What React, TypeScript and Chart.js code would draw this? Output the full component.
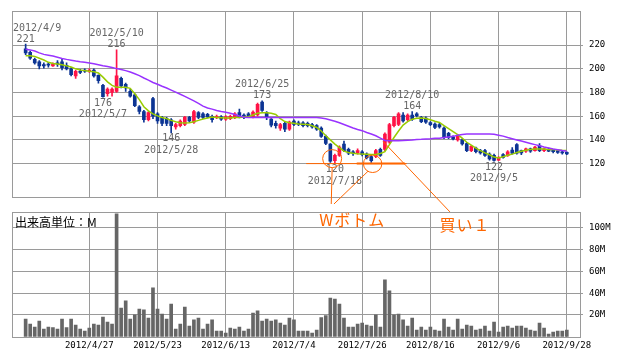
import React, { useEffect, useRef } from "react";
import { Chart, registerables } from "chart.js";

Chart.register(...registerables);

// ---------- data ----------
const days = (
  "4/9 4/10 4/11 4/12 4/13 4/16 4/17 4/18 4/19 4/20 4/23 4/24 4/25 4/26 4/27 " +
  "5/1 5/2 5/7 5/8 5/9 5/10 5/11 5/14 5/15 5/16 5/17 5/18 5/21 5/22 5/23 5/24 5/25 5/28 5/29 5/30 5/31 " +
  "6/1 6/4 6/5 6/6 6/7 6/8 6/11 6/12 6/13 6/14 6/15 6/18 6/19 6/20 6/21 6/22 6/25 6/26 6/27 6/28 6/29 " +
  "7/2 7/3 7/4 7/5 7/6 7/9 7/10 7/11 7/12 7/13 7/17 7/18 7/19 7/20 7/23 7/24 7/25 7/26 7/27 7/30 7/31 " +
  "8/1 8/2 8/3 8/6 8/7 8/8 8/9 8/10 8/13 8/14 8/15 8/16 8/17 8/20 8/21 8/22 8/23 8/24 8/27 8/28 8/29 8/30 8/31 " +
  "9/3 9/4 9/5 9/6 9/7 9/10 9/11 9/12 9/13 9/14 9/18 9/19 9/20 9/21 9/24 9/25 9/26 9/27 9/28"
).split(" ");

const opens = [
  217, 214, 208, 206, 203.5, 204, 202.5, 205, 206, 203,
  200, 194, 198, 199, 198, 199, 194.5, 186, 179, 180,
  181, 192, 187, 181, 178, 168, 164, 157, 175, 162,
  159, 158, 157, 151, 152, 153, 159, 155, 163, 162,
  161.5, 160, 159, 159.5, 157.5, 158, 159, 163, 161, 162,
  159.5, 161, 172, 163, 157.5, 154, 150, 154, 149, 156,
  154.5, 154.5, 154, 153, 152, 150, 143, 136.5, 122.5, 127,
  136.5, 132, 130, 129, 130, 128, 126, 126, 132, 132,
  138, 152, 153, 161, 157, 161, 162, 159, 158.5, 154.7,
  153.4, 153, 150, 145.5, 142.7, 140, 140, 137, 131, 133,
  131, 131, 128, 127, 123, 127.6, 126.7, 131.5, 136, 131,
  130.4, 132.5, 131, 135, 131, 132, 131.5, 131, 130, 129.5,
];
const closes = [
  213.5, 209, 205, 202.5, 202.5, 203, 204, 204, 201, 200,
  195, 198, 197, 198, 199, 194, 190, 176.5, 183, 183,
  194, 185.5, 184, 177, 169, 164, 157, 163, 160, 156,
  154, 154, 152, 153, 156, 159, 156, 164, 159, 159,
  159.5, 157, 160, 157.5, 159.5, 160, 162, 159.5, 159, 160,
  163.5, 170, 165, 159, 152.5, 152, 153, 149, 155, 153,
  153, 152, 152, 151, 149, 143, 137, 122, 127, 134,
  131, 128.7, 128.7, 131, 127.6, 125, 122.5, 131, 127, 145,
  153, 159, 162, 156, 161, 157.5, 160.5, 155.5, 155, 152.8,
  150.5, 151, 142, 142, 140.8, 143.5, 136.6, 131, 134.5, 130,
  129, 127, 124, 122.7, 125, 125.3, 130, 128.7, 128.7, 129,
  132.4, 130.5, 134, 131, 132.5, 130.5, 130, 129.5, 129, 128.2,
];
const highs = [
  221, 215, 209, 207, 205, 205.5, 205, 207, 208, 205,
  201, 199, 199.5, 200, 200, 200, 195, 187, 184, 184,
  216, 193, 188, 183, 179, 169, 165, 164, 176, 163,
  160, 159, 158, 154, 157, 160, 160, 165, 164, 163,
  162.5, 161, 161, 160.5, 160.5, 161, 163, 166, 162, 163,
  164.5, 171, 173, 164, 158, 156, 154, 155, 156, 157,
  156, 155.5, 155, 154, 153, 151, 144, 137, 128, 135,
  139, 133, 131, 132.5, 131, 129, 127, 132, 133, 146,
  154, 160, 163, 163, 162, 164, 163, 160, 159.5, 155.5,
  154.5, 154, 151, 146.5, 143.5, 144.5, 141, 138, 135.5, 134,
  132, 132, 129, 128, 126, 128.5, 131, 133.5, 137, 131.5,
  133, 133, 134.5, 137, 133, 133, 132, 131.5, 131, 130,
];
const lows = [
  212, 208, 204, 200, 200.5, 201.5, 202, 202, 199, 199,
  194, 192, 196, 197, 197, 193, 188, 176, 177, 177,
  180, 184, 181, 176, 168, 162, 155, 156, 158, 154,
  152, 152, 146, 149, 151, 152, 155, 154, 158, 158,
  158.5, 155, 158, 156.5, 156.5, 157, 158, 158.5, 158, 159,
  158.5, 160, 164, 157, 151, 150, 148, 147, 148, 152,
  152, 151, 151, 150, 148, 142, 136, 121, 120, 126,
  130, 127.5, 127, 128, 126.5, 124, 121, 125, 126, 131,
  137, 151, 152, 155, 156, 156.5, 159.5, 154.5, 154, 152,
  149.5, 150, 141, 141, 140, 139, 135.5, 130, 130, 129,
  128, 126, 123, 122, 122.5, 124.5, 126, 128, 128, 127.5,
  129.5, 129.5, 130.5, 130, 130, 130, 129, 128.5, 128, 127.5,
];
const maShort = [
  211, 211, 210.5, 209, 207.5, 205.5, 204.5, 204, 203.5, 202.5,
  201.5, 200, 199, 198.5, 198, 197.5, 196.5, 193, 189, 186,
  184.5, 184.5, 184.5, 183.5, 179, 174, 168, 164.5, 162, 160.3,
  159, 158, 156.5, 155.3, 154.5, 154.2, 154.5, 155.3, 156.5, 157.6,
  158.5, 159.3, 159, 158.7, 158.4, 158.5, 158.9, 159, 159.3, 159.5,
  161, 162.5, 163, 163, 162.5, 161.5, 158, 155.5, 154.5, 154,
  153.5, 153.3, 153, 152, 150.5, 147.5, 143.5, 140, 136.5, 133.5,
  130.5, 129.3, 128.7, 128.3, 128, 127.8, 127.6, 127.6, 128.5, 130,
  136, 142, 147.5, 152.5, 155.5, 157.5, 158.3, 158.5, 158, 157,
  155.8, 154.7, 152, 149.5, 147, 144.5, 141.5, 138, 135.5, 133,
  131, 129, 127.5, 125.5, 124.8, 125.8, 127, 128, 129.3, 130.5,
  131.2, 132, 132.4, 132.4, 132.4, 132, 131.8, 131.5, 131.2, 131,
];
const maLong = [
  216.5, 216, 215, 213.5, 212.2, 211.5, 210.8, 209.8, 208.8, 208,
  207.3, 206.6, 206, 205.5, 205, 204.3, 203.5, 202.7, 202, 201.2,
  200.2, 199.5, 198.5, 197.3, 195.8, 194.3, 192.3, 190.5, 188.5, 187,
  185.3, 183.8, 182, 180.3, 178.6, 176.8, 174.8, 172.9, 170.8, 168.5,
  167, 166, 164.8, 164, 163.3, 162.5, 161.5, 160.2, 159.2, 159,
  159, 159, 159, 159, 159, 159, 159, 159, 159, 159,
  159, 159, 159, 159, 159, 158.5, 157.8, 156.8, 155.8, 154.5,
  153, 151.5, 150, 148.8, 147.8, 146.3, 145, 143.5, 141.5, 139.5,
  139.3, 139.3, 139.3, 139.5, 139.8, 140, 140.3, 140.5, 140.8, 141,
  141.3, 141.5, 142, 142.5, 143, 144, 144.5, 145, 145, 145,
  145, 145, 145, 144.7, 144, 143.2, 142, 141, 140, 139,
  138, 137, 136, 135, 134, 133.2, 132.4, 131.7, 131, 130.4,
];
const volumes = [
  16.3, 11.7, 8.9, 14.4, 7.1, 8.9, 8.3, 7.1, 16.3, 8.3,
  16.3, 10.8, 7.1, 5.2, 8.0, 11.7, 10.8, 18.1, 13.5, 11.7,
  113, 26.4, 32.9, 16.3, 20, 25.5, 24.6, 17.2, 44.9, 25.5,
  20.9, 16.3, 30.1, 7.1, 11.7, 27.3, 9.8, 15.4, 17.2, 7.1,
  11.7, 15.4, 5.2, 5.2, 3.4, 8.0, 7.1, 8.9, 5.2, 7.1,
  21.8, 23.7, 14.4, 16.3, 14.4, 15.4, 12.6, 10.8, 17.2, 15.4,
  5.2, 5.2, 5.2, 3.4, 6.1, 17.5, 19.4, 35.6, 34.7, 30.1,
  17.2, 8.9, 8.9, 11.7, 12.6, 10.8, 9.8, 20, 8.9, 52.2,
  42.1, 20, 20.9, 15.4, 9.8, 17.2, 6.1, 8.9, 6.1, 8.9,
  6.1, 5.2, 16.3, 8.9, 6.1, 16.3, 7.1, 10.8, 9.8, 6.1,
  7.1, 9.8, 5.2, 13.5, 4.3, 8.9, 9.8, 8.0, 9.8, 9.8,
  8.0, 6.1, 5.2, 12.6, 8.0, 2.5, 4.3, 5.2, 5.2, 6.1,
];
const priceTicks = [120, 140, 160, 180, 200, 220];
const volumeTicks = [20, 40, 60, 80, 100];
const xTickDays = ["4/27", "5/23", "6/13", "7/4", "7/26", "8/16", "9/6", "9/28"];
const peakMarks = [
  { day: "4/9", kind: "high" },
  { day: "5/10", kind: "high" },
  { day: "5/7", kind: "low" },
  { day: "5/28", kind: "low" },
  { day: "6/25", kind: "high" },
  { day: "7/18", kind: "low" },
  { day: "8/10", kind: "high" },
  { day: "9/5", kind: "low" },
];
// hand-drawn annotations, in (day index, price) units
const noteCircles = [
  { x: 67.4, y: 124.2, rx: 9.5, ry: 9 },
  { x: 76.3, y: 119.8, rx: 9.2, ry: 8.7 },
];
const noteLines = [
  { x1: 61.7, y1: 120, x2: 83.8, y2: 120, w: 1 },
  { x1: 72.8, y1: 120, x2: 83.4, y2: 120, w: 2 },
  { x1: 67.4, y1: 116.6, x2: 67.2, y2: 85.9, w: 1 },
  { x1: 75.3, y1: 113.6, x2: 67.8, y2: 85.9, w: 1 },
  { x1: 78.6, y1: 138.7, x2: 93.3, y2: 79.2, w: 1 },
];
const noteTexts = [
  { text: "Wボトム", x: 71.8, y: 72.5 },
  { text: "買い１", x: 96.6, y: 68 },
];

// ---------- styles ----------
const GRID = "#9a9a9a";
const RED = "#ff1447";
const BLUE = "#0d3594";
const GREEN = "#99cc00";
const PURPLE = "#9933ff";
const ORANGE = "#ff6600";
const VOL = "#666666";
const MONO = '"DejaVu Sans Mono", "Liberation Mono", monospace';

const idx = days.map((_, i) => i);
const xTickIdx = xTickDays.map((d) => days.indexOf(d));
const X_MIN = -3.0;
const X_MAX = 121.9;

const framePlugin = {
  id: "frame",
  beforeDatasetsDraw(chart: any) {
    const { ctx, chartArea: a } = chart;
    ctx.save();
    ctx.strokeStyle = GRID;
    ctx.lineWidth = 1;
    const l = Math.round(a.left) + 0.5;
    const t = Math.round(a.top) + 0.5;
    const r = Math.round(a.right) + 0.5;
    const b = Math.round(a.bottom) + 0.5;
    ctx.strokeRect(l, t, r - l, b - t);
    ctx.restore();
  },
};

const priceNotes = {
  id: "priceNotes",
  afterDatasetsDraw(chart: any) {
    const { ctx, chartArea, scales } = chart;
    const px = (i: number) => scales.x.getPixelForValue(i);
    const py = (v: number) => scales.y.getPixelForValue(v);
    ctx.save();
    ctx.font = `10px ${MONO}`;
    ctx.fillStyle = "#666666";
    ctx.textAlign = "center";
    ctx.textBaseline = "middle";
    peakMarks.forEach((m) => {
      const i = days.indexOf(m.day);
      const v = m.kind === "high" ? highs[i] : lows[i];
      const x = px(i);
      const y = py(v);
      const date = "2012/" + m.day;
      const rows: [string, number][] =
        m.kind === "high"
          ? [[date, y - 16], [String(v), y - 5]]
          : [[String(v), y + 6], [date, y + 17.5]];
      rows.forEach(([t, ty]) => {
        const w = ctx.measureText(t).width;
        const cx = Math.max(chartArea.left + 1 + w / 2, Math.min(chartArea.right - 1 - w / 2, x));
        ctx.fillText(t, cx, ty);
      });
    });
    ctx.strokeStyle = ORANGE;
    ctx.lineWidth = 1;
    noteCircles.forEach((c) => {
      ctx.beginPath();
      ctx.ellipse(px(c.x), py(c.y), c.rx, c.ry, 0, 0, Math.PI * 2);
      ctx.stroke();
    });
    noteLines.forEach((s) => {
      ctx.lineWidth = s.w;
      ctx.beginPath();
      ctx.moveTo(px(s.x1), py(s.y1));
      ctx.lineTo(px(s.x2), py(s.y2));
      ctx.stroke();
    });
    ctx.fillStyle = ORANGE;
    ctx.font = '16px "Noto Sans CJK JP"';
    try { (ctx as any).letterSpacing = "1px"; } catch (e) {}
    noteTexts.forEach((t) => {
      ctx.fillText(t.text, px(t.x), py(t.y));
    });
    ctx.restore();
  },
};

const volumeNotes = {
  id: "volumeNotes",
  afterDatasetsDraw(chart: any) {
    const { ctx, chartArea } = chart;
    ctx.save();
    ctx.font = '12px "Noto Sans CJK JP"';
    ctx.fillStyle = "#000";
    ctx.textAlign = "left";
    ctx.textBaseline = "middle";
    ctx.fillText("出来高単位：M", chartArea.left + 3, chartArea.top + 10);
    ctx.restore();
  },
};

export default function App() {
  const priceRef = useRef<HTMLCanvasElement>(null);
  const volRef = useRef<HTMLCanvasElement>(null);

  useEffect(() => {
    Chart.defaults.font.family = MONO;
    Chart.defaults.color = "#000";
    const candleColors = idx.map((i) => (closes[i] > opens[i] ? RED : BLUE));

    const xCommon = (showLabels: boolean, height: number) => ({
      type: "linear" as const,
      min: X_MIN,
      max: X_MAX,
      offset: false,
      afterBuildTicks: (s: any) => {
        s.ticks = xTickIdx.map((v) => ({ value: v }));
      },
      afterFit: (s: any) => {
        s.height = height;
      },
      grid: { color: GRID, lineWidth: 1, offset: false, drawTicks: false },
      border: { display: false },
      ticks: {
        display: showLabels,
        autoSkip: false,
        maxRotation: 0,
        padding: 4,
        font: { size: 9, family: MONO },
        color: "#000",
        callback: (v: any) => "2012/" + days[v],
      },
    });

    const priceChart = new Chart(priceRef.current!, {
      type: "bar",
      data: {
        datasets: [
          {
            type: "line",
            data: idx.map((i) => ({ x: i, y: maLong[i] })),
            borderColor: PURPLE,
            borderWidth: 1.5,
            pointRadius: 0,
            tension: 0,
            order: 0,
          } as any,
          {
            type: "line",
            data: idx.map((i) => ({ x: i, y: maShort[i] })),
            borderColor: GREEN,
            borderWidth: 1.5,
            pointRadius: 0,
            tension: 0,
            order: 1,
          } as any,
          {
            type: "bar",
            data: idx.map((i) => ({ x: i, y: [lows[i], highs[i]] })),
            backgroundColor: candleColors,
            borderWidth: 0,
            barThickness: 1,
            grouped: false,
            order: 2,
          } as any,
          {
            type: "bar",
            data: idx.map((i) => ({ x: i, y: [opens[i], closes[i]] })),
            backgroundColor: candleColors,
            borderWidth: 0,
            barThickness: 3,
            minBarLength: 1,
            grouped: false,
            order: 2,
          } as any,
        ],
      },
      options: {
        responsive: false,
        animation: false,
        layout: { padding: { left: 12, top: 10, right: 0, bottom: 43 } },
        plugins: { legend: { display: false }, tooltip: { enabled: false } },
        scales: {
          x: xCommon(false, 0) as any,
          y: {
            type: "linear",
            position: "right",
            min: 91.8,
            max: 248.5,
            beginAtZero: false,
            afterBuildTicks: (s: any) => {
              s.ticks = priceTicks.map((v) => ({ value: v }));
            },
            afterFit: (s: any) => {
              s.width = 58;
            },
            grid: { color: GRID, lineWidth: 1, drawTicks: true, tickLength: 3 },
            border: { display: false },
            ticks: {
              padding: 6,
              font: { size: 9, family: MONO },
              color: "#000",
              callback: (v: any) => String(v),
            },
          },
        },
      },
      plugins: [framePlugin, priceNotes],
    });

    const volChart = new Chart(volRef.current!, {
      type: "bar",
      data: {
        datasets: [
          {
            data: idx.map((i) => ({ x: i, y: volumes[i] })),
            backgroundColor: VOL,
            borderWidth: 0,
            barThickness: 3,
            grouped: false,
          } as any,
        ],
      },
      options: {
        responsive: false,
        animation: false,
        layout: { padding: { left: 12, top: 12.3, right: 0, bottom: 0 } },
        plugins: { legend: { display: false }, tooltip: { enabled: false } },
        scales: {
          x: xCommon(true, 25.3) as any,
          y: {
            type: "linear",
            position: "right",
            min: 0,
            max: 114.4,
            afterBuildTicks: (s: any) => {
              s.ticks = volumeTicks.map((v) => ({ value: v }));
            },
            afterFit: (s: any) => {
              s.width = 58;
            },
            grid: { color: GRID, lineWidth: 1, drawTicks: true, tickLength: 3 },
            border: { display: false },
            ticks: {
              padding: 6,
              font: { size: 9, family: MONO },
              color: "#000",
              callback: (v: any) => v + "M",
            },
          },
        },
      },
      plugins: [framePlugin, volumeNotes],
    });

    return () => {
      priceChart.destroy();
      volChart.destroy();
    };
  }, []);

  return (
    <div style={{ position: "absolute", left: 0, top: 0, width: 638, height: 362, background: "#fff" }}>
      <canvas ref={volRef} width={638} height={162} style={{ position: "absolute", left: 0, top: 200 }} />
      <canvas ref={priceRef} width={638} height={240} style={{ position: "absolute", left: 0, top: 0 }} />
    </div>
  );
}
